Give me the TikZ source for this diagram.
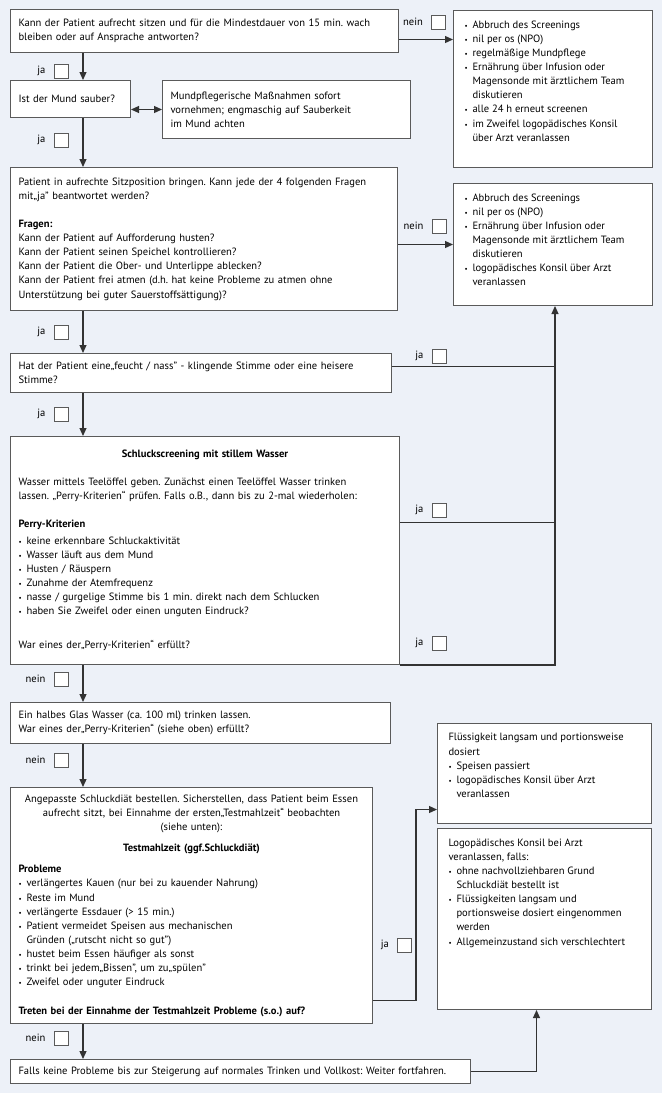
\documentclass[tikz,border=0pt]{standalone}
\usepackage{fontspec}
\setmainfont{PT Sans}
\usetikzlibrary{positioning, arrows.meta, calc}
\definecolor{bgblue}{HTML}{EDF1F8}
\definecolor{framegray}{HTML}{5A5A5A}
\definecolor{linegray}{HTML}{333333}
\newcommand{\boxfont}{\fontsize{10.6}{14.2}\selectfont\frenchspacing}
\newcommand{\bul}{\makebox[8bp][l]{\scriptsize\textbullet}}
\newcommand{\cont}{\hspace*{8bp}}
\newcommand{\toptxt}[3]{\parbox[t][#2][t]{#1}{\raggedright #3}}
\tikzset{
>={Triangle[length=8bp,width=7bp]}, % filled arrow heads
box/.style={draw=framegray, fill=white, line width=1bp, anchor=north west, align=left, inner xsep=8bp, inner ysep=4bp, font=\boxfont}, % question boxes
side/.style={box, inner xsep=11bp, inner ysep=10bp}, % result boxes on the right
checkbox/.style={draw=framegray, fill=white, line width=0.8bp, minimum size=14bp, inner sep=0pt},
answer/.style={font=\boxfont, inner sep=0pt},
flow/.style={draw=linegray, line width=1.2bp},
}

\begin{document}
\begin{tikzpicture}[x=1bp, y=-1bp]
\fill[bgblue] (0,0) rectangle (662,1093);
\useasboundingbox (0,0) rectangle (662,1093);

% questions on the left
\node[box, text width=372bp, minimum height=43bp] (q1) at (10,9) {Kann der Patient aufrecht sitzen und für die Mindestdauer von 15 min. wach\\bleiben oder auf Ansprache antworten?};
\node[box, text width=104bp, minimum height=37bp] (mouth) at (10,80) {Ist der Mund sauber?};
\node[box, text width=232bp, minimum height=58bp] (care) at (162,80) {Mundpflegerische Maßnahmen sofort\\vornehmen; engmaschig auf Sauberkeit\\im Mund achten};
\node[box, text width=371bp, minimum height=143bp] (q3) at (10,167) {Patient in aufrechte Sitzposition bringen. Kann jede der 4 folgenden Fragen\\mit„ja" beantwortet werden?\\[14bp]\textbf{Fragen:}\\Kann der Patient auf Aufforderung husten?\\Kann der Patient seinen Speichel kontrollieren?\\Kann der Patient die Ober- und Unterlippe ablecken?\\Kann der Patient frei atmen (d.h. hat keine Probleme zu atmen ohne\\Unterstützung bei guter Sauerstoffsättigung)?};
\node[box, text width=365bp, minimum height=39bp] (q4) at (10,353) {Hat der Patient eine„feucht / nass" - klingende Stimme oder eine heisere\\Stimme?};
\node[box, text width=373bp, minimum height=228bp] (s5) at (10,436) {\makebox[\linewidth]{\textbf{Schluckscreening mit stillem Wasser}}\\[14bp]Wasser mittels Teelöffel geben. Zunächst einen Teelöffel Wasser trinken\\lassen. „Perry-Kriterien“ prüfen. Falls o.B., dann bis zu 2-mal wiederholen:\\[14bp]\textbf{Perry-Kriterien}\\[2bp]\bul keine erkennbare Schluckaktivität\\\bul Wasser läuft aus dem Mund\\\bul Husten / Räuspern\\\bul Zunahme der Atemfrequenz\\\bul nasse / gurgelige Stimme bis 1 min. direkt nach dem Schlucken\\\bul haben Sie Zweifel oder einen unguten Eindruck?\\[20bp]War eines der„Perry-Kriterien“ erfüllt?};
\node[box, text width=364bp, minimum height=41bp] (q6) at (10,702) {Ein halbes Glas Wasser (ca. 100 ml) trinken lassen.\\War eines der„Perry-Kriterien“ (siehe oben) erfüllt?};
\node[box, text width=346bp, minimum height=236bp] (s7) at (10,787) {\makebox[\linewidth]{Angepasste Schluckdiät bestellen. Sicherstellen, dass Patient beim Essen}\\\makebox[\linewidth]{aufrecht sitzt, bei Einnahme der ersten„Testmahlzeit“ beobachten}\\\makebox[\linewidth]{(siehe unten):}\\[7bp]\makebox[\linewidth]{\textbf{Testmahlzeit (ggf.Schluckdiät)}}\\[7bp]\textbf{Probleme}\\\bul verlängertes Kauen (nur bei zu kauender Nahrung)\\\bul Reste im Mund\\\bul verlängerte Essdauer (> 15 min.)\\\bul Patient vermeidet Speisen aus mechanischen\\\cont Gründen („rutscht nicht so gut")\\\bul hustet beim Essen häufiger als sonst\\\bul trinkt bei jedem„Bissen", um zu„spülen"\\\bul Zweifel oder unguter Eindruck\\[14bp]\textbf{Treten bei der Einnahme der Testmahlzeit Probleme (s.o.) auf?}};
\node[box, text width=444bp, minimum height=24bp] (last) at (10,1059) {Falls keine Probleme bis zur Steigerung auf normales Trinken und Vollkost: Weiter fortfahren.};

% results on the right
\node[side] (r1) at (453,10) {\toptxt{177bp}{137bp}{\bul Abbruch des Screenings\\\bul nil per os (NPO)\\\bul regelmäßige Mundpflege\\\bul Ernährung über Infusion oder\\\cont Magensonde mit ärztlichem Team\\\cont diskutieren\\\bul alle 24 h erneut screenen\\\bul im Zweifel logopädisches Konsil\\\cont über Arzt veranlassen}};
\node[side] (r2) at (453,183) {\toptxt{177bp}{102bp}{\bul Abbruch des Screenings\\\bul nil per os (NPO)\\\bul Ernährung über Infusion oder\\\cont Magensonde mit ärztlichem Team\\\cont diskutieren\\\bul logopädisches Konsil über Arzt\\\cont veranlassen}};
\node[side] (r3) at (437,723) {\toptxt{192bp}{80bp}{Flüssigkeit langsam und portionsweise\\dosiert\\\bul Speisen passiert\\\bul logopädisches Konsil über Arzt\\\cont veranlassen}};
\node[side] (r4) at (437,828) {\toptxt{192bp}{161bp}{Logopädisches Konsil bei Arzt\\veranlassen, falls:\\\bul ohne nachvollziehbaren Grund\\\cont Schluckdiät bestellt ist\\\bul Flüssigkeiten langsam und\\\cont portionsweise dosiert eingenommen\\\cont werden\\\bul Allgemeinzustand sich verschlechtert}};

% main line
\coordinate (trunk) at (83,0);
\foreach \a/\b in {q1/mouth, mouth/q3, q3/q4, q4/s5, s5/q6, q6/s7, s7/last}
  \draw[flow, ->] (\a.south -| trunk) -- (\b.north -| trunk);
\draw[flow, <->] (mouth.east |- care.west) -- (care.west);

% side exits
\coordinate (q1out) at ($(q1.east)+(0,8.5)$);
\draw[flow, ->] (q1out) -- (q1out -| r1.west);
\draw[flow, ->] (q3.east |- r2.west) -- (r2.west);

\coordinate (bus) at (555,0);
\coordinate (q4out) at ($(q4.east)+(0,-6.5)$);
\coordinate (s5out) at ($(s5.east)+(0,-28)$);
\draw[flow] (q4out) -- (q4out -| bus);
\draw[flow] (s5out) -- (s5out -| bus);
\draw[flow, ->] (s5.south east) -- (s5.south east -| bus) -- (bus |- r2.south);

\coordinate (s7out) at ($(s7.east)+(0,95)$);
\coordinate (jog) at (416,0);
\coordinate (r3in) at ($(r3.west)+(0,36)$);
\draw[flow, ->] (s7out) -- (s7out -| jog) -- (jog |- r3in) -- (r3in);

\coordinate (r4in) at ($(r4.south)+(-8,0)$);
\draw[flow, ->] (last.east) -- (last.east -| r4in) -- (r4in);

% answer boxes
\foreach \x/\y/\word [count=\i] in {438.5/22/nein, 61/71/ja, 61/140/ja, 439/226/nein, 61/332/ja, 439/356/ja, 61/414/ja, 439/510/ja, 439/643/ja, 61/679/nein, 61/760/nein, 404.5/945/ja, 61/1038/nein} {
  \node[checkbox] (c\i) at (\x,\y) {};
  \node[answer, left=8bp of c\i] {\word};
}
\end{tikzpicture}
\end{document}
